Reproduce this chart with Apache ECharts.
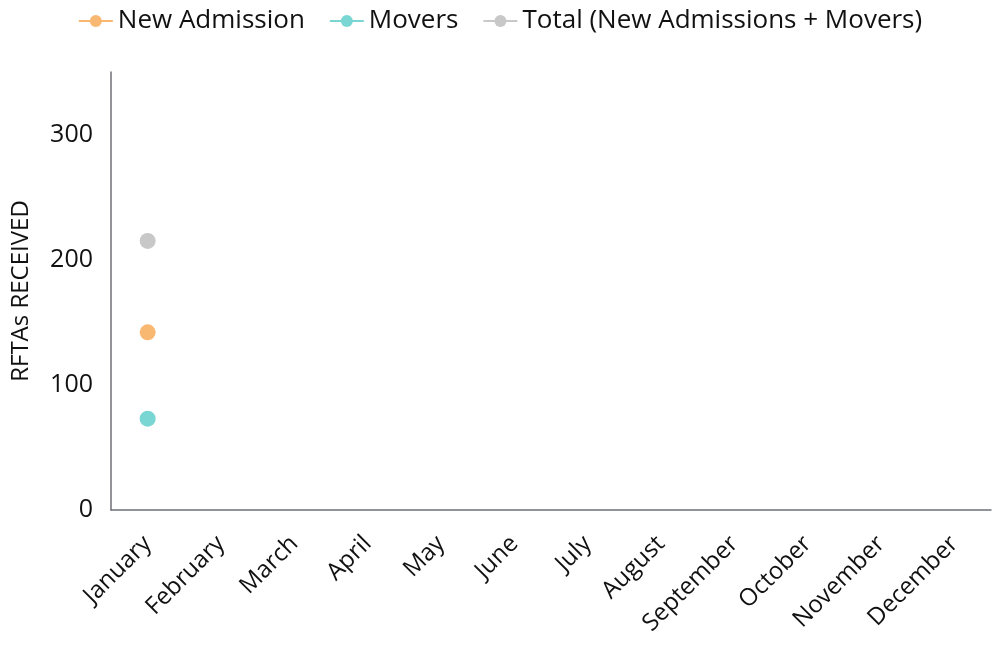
<!DOCTYPE html>
<html><head><meta charset="utf-8">
<script src="https://cdn.jsdelivr.net/npm/echarts@6/dist/echarts.min.js"></script>
<style>html,body{margin:0;padding:0;background:#fff}#c{width:1000px;height:657px}</style>
</head><body><div id="c"></div>
<script>
var months = ['January','February','March','April','May','June','July','August','September','October','November','December'];
var newAdmission = [142];
var movers = [73];
var total = [215];
var yTicks = [0,100,200,300];

var FONT = 'Open Sans';
function mk(name, data, color) {
  return {
    name: name, type: 'line', data: data,
    symbol: 'circle', symbolSize: 16,
    itemStyle: {color: color},
    lineStyle: {color: color, width: 4},
    areaStyle: {color: color, opacity: 0.15}
  };
}
var chart = echarts.init(document.getElementById('c'));
chart.setOption({
  animation: false,
  textStyle: {fontFamily: FONT},
  legend: {
    top: 3, left: 'center', itemWidth: 34, itemHeight: 15, itemGap: 24,
    textStyle: {fontSize: 26, color: '#111', fontFamily: FONT}
  },
  grid: {left: 111, right: 9, top: 72, bottom: 147},
  xAxis: {
    type: 'category', data: months, boundaryGap: true,
    axisLine: {lineStyle: {color: '#6e7079', width: 1.5}},
    axisTick: {show: false},
    axisLabel: {rotate: 45, fontSize: 24, color: '#111', margin: 30, interval: 0, fontFamily: FONT}
  },
  yAxis: {
    type: 'value', min: yTicks[0], max: 350, interval: 100,
    name: 'RFTAs RECEIVED', nameLocation: 'middle', nameGap: 78,
    nameTextStyle: {fontSize: 24, color: '#111', fontFamily: FONT},
    axisLine: {show: true, lineStyle: {color: '#6e7079', width: 1.5}},
    axisTick: {show: false},
    splitLine: {show: false},
    axisLabel: {fontSize: 25, color: '#111', margin: 18, showMaxLabel: false, fontFamily: FONT}
  },
  series: [
    mk('New Admission', newAdmission, '#f9b872'),
    mk('Movers', movers, '#79d6d2'),
    mk('Total (New Admissions + Movers)', total, '#c8c8c8')
  ]
});
</script></body></html>
